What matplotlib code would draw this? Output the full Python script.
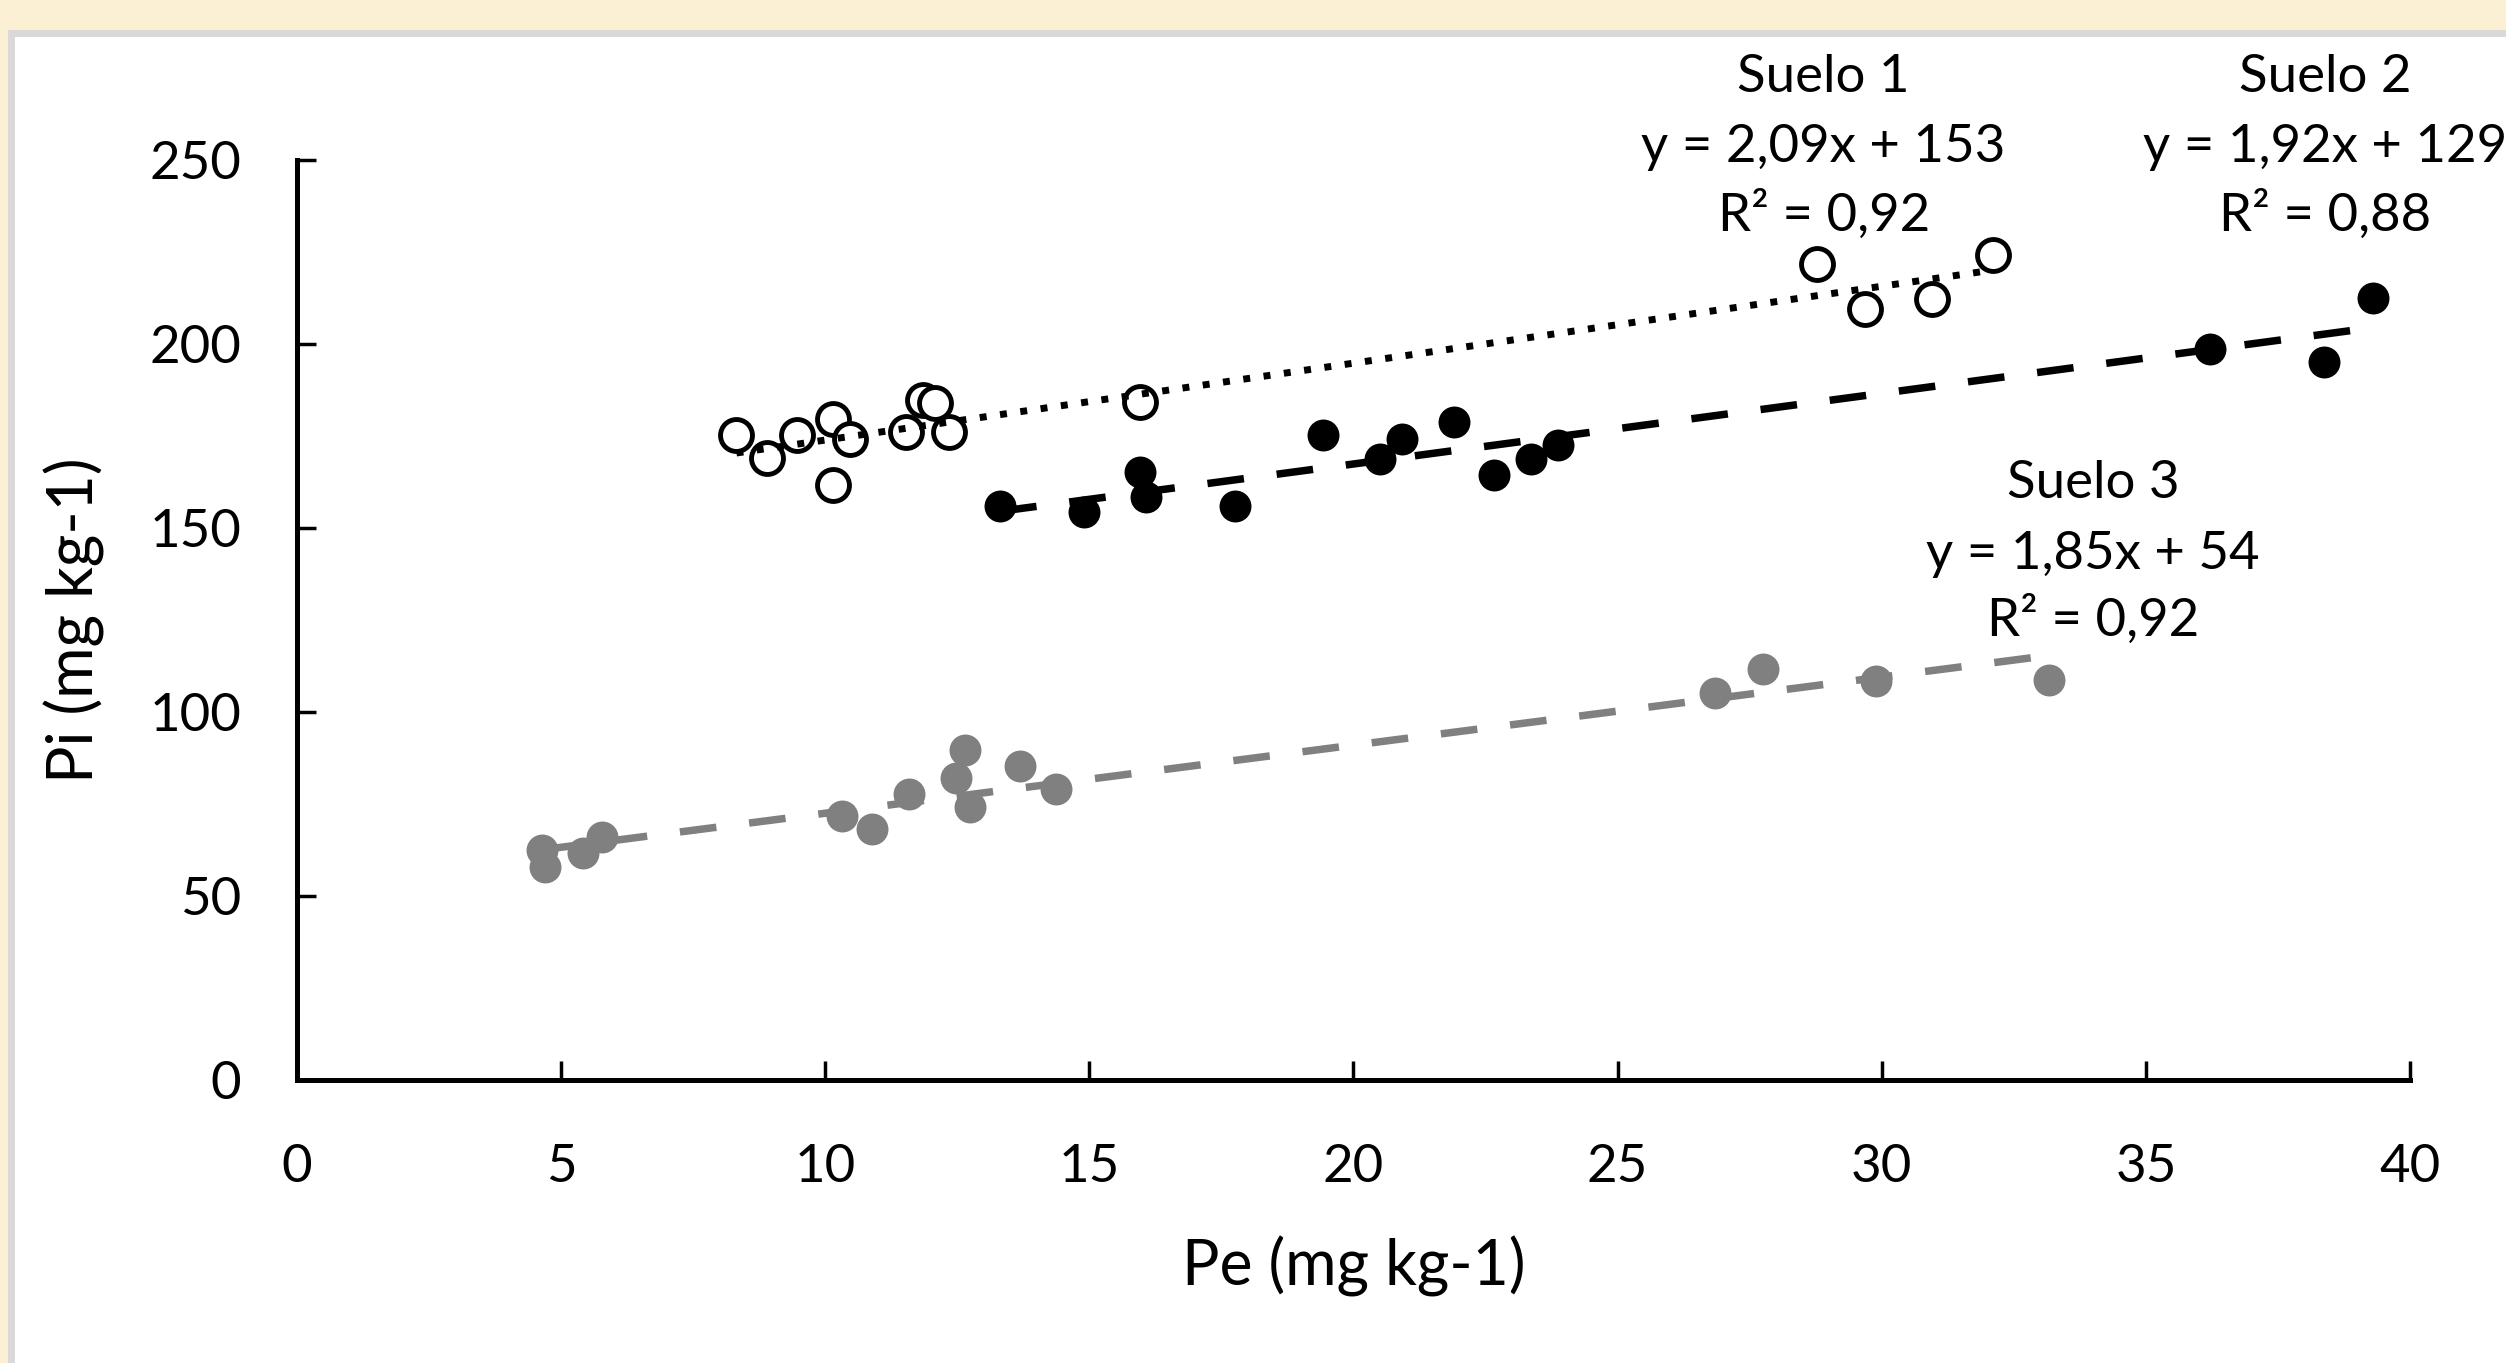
import matplotlib
matplotlib.use("Agg")
import matplotlib.pyplot as plt
from matplotlib.patches import Rectangle
import numpy as np

plt.rcParams['font.family'] = ['Lato', 'DejaVu Sans']

# ---- data ----
s1_x = [8.32, 8.90, 9.47, 10.14, 10.14, 10.47, 11.53, 11.86, 12.07, 12.34, 15.95, 28.77, 29.68, 30.95, 32.10]
s1_y = [175.2, 169.0, 175.2, 179.6, 161.7, 174.3, 176.0, 184.8, 183.9, 176.0, 184.3, 221.7, 209.6, 212.2, 224.3]

s2_x = [13.31, 14.89, 15.95, 16.07, 17.76, 19.43, 20.51, 20.91, 21.91, 22.66, 23.36, 23.87, 36.22, 38.37, 39.30]
s2_y = [156.1, 154.3, 165.2, 158.3, 156.1, 175.2, 168.7, 174.3, 178.7, 164.3, 168.7, 172.6, 198.7, 195.2, 212.6]

s3_x = [4.63, 4.69, 5.42, 5.78, 10.32, 10.89, 11.59, 12.47, 12.65, 12.74, 13.68, 14.37, 26.84, 27.75, 29.89, 33.16]
s3_y = [62.6, 57.8, 61.7, 66.1, 71.7, 68.3, 77.8, 82.2, 89.6, 74.3, 85.2, 79.1, 105.2, 111.7, 108.3, 108.7]

soil_names = ["Suelo 1", "Suelo 2", "Suelo 3"]
slopes = [2.09, 1.92, 1.85]
intercepts = [153, 129, 54]
r2 = [0.92, 0.88, 0.92]

x_ticks = [0, 5, 10, 15, 20, 25, 30, 35, 40]
y_ticks = [0, 50, 100, 150, 200, 250]


def fmt(v, nd=2):
    return f"{v:.{nd}f}".replace(".", ",")


fig = plt.figure(figsize=(25.06, 13.63), dpi=100)
fig.patch.set_facecolor("#FBEFD4")
# white panel with light gray border (background axes)
bg = fig.add_axes([0, 0, 1, 1], zorder=-10)
bg.set_axis_off()
bg.add_patch(Rectangle((0.0045, -0.01), 1.0, 0.986, transform=bg.transAxes,
                       facecolor="white", edgecolor="#D9D9D9", linewidth=5))

ax = fig.add_axes([0.1185, 0.2076, 0.9617 - 0.1185, 0.8826 - 0.2076], zorder=1)
ax.set_facecolor("none")

ax.set_xlim(0, 40)
ax.set_ylim(0, 250)

ms = 23
ax.plot(s1_x, s1_y, 'o', ms=ms, mfc='white', mec='black', mew=3.5, zorder=3, clip_on=False)
ax.plot(s2_x, s2_y, 'o', ms=ms, mfc='black', mec='black', mew=0, zorder=3, clip_on=False)
ax.plot(s3_x, s3_y, 'o', ms=ms, mfc='#808080', mec='#808080', mew=0, zorder=3, clip_on=False)

# trend lines
series = [(s1_x, dict(color='black', lw=5.0, linestyle=(0, (1.0, 1.95)))),
          (s2_x, dict(color='black', lw=5.4, linestyle=(0, (4.9, 4.4)))),
          (s3_x, dict(color='#808080', lw=5.4, linestyle=(0, (4.9, 4.4))))]
for i, (xs, style) in enumerate(series):
    xx = np.array([min(xs), max(xs)])
    ax.plot(xx, slopes[i] * xx + intercepts[i], zorder=4, solid_capstyle='butt',
            dash_capstyle='butt', **style)

for s in ['top', 'right']:
    ax.spines[s].set_visible(False)
for s in ['left', 'bottom']:
    ax.spines[s].set_linewidth(3.6)
ax.set_xticks(x_ticks)
ax.set_yticks(y_ticks)
ax.tick_params(direction='in', length=14, width=2.5, labelsize=38, pad=40)
ax.tick_params(axis='x', pad=46)

ax.set_xlabel("Pe (mg kg-1)", fontsize=45, labelpad=32)
ax.set_ylabel("Pi (mg kg-1)", fontsize=45, labelpad=32)

# annotations
ann_pos = [(28.9, [272.5, 253.5, 235.0]), (38.4, [272.5, 253.5, 235.0]), (34.0, [162.2, 142.7, 125.0])]
for i, (xc, ys) in enumerate(ann_pos):
    lines = [soil_names[i],
             f"y = {fmt(slopes[i])}x + {intercepts[i]}",
             f"R² = {fmt(r2[i])}"]
    for t, yy in zip(lines, ys):
        ax.text(xc, yy, t, ha='center', va='center', fontsize=38, clip_on=False)

fig.savefig("out.png", dpi=100, facecolor=fig.get_facecolor())
